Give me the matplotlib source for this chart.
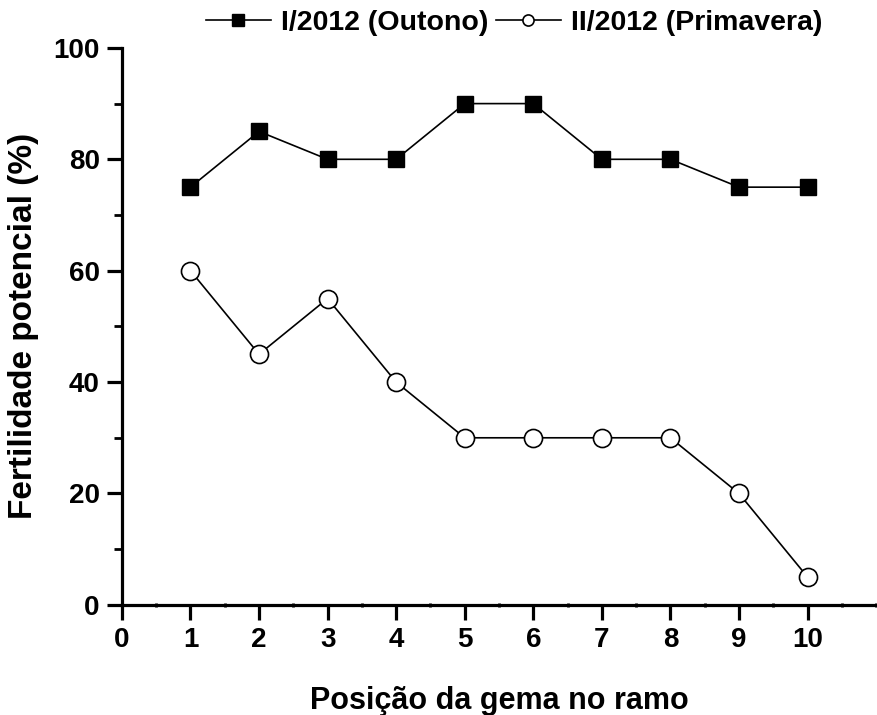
"""Fertilidade potencial das gemas por posicao no ramo."""

import matplotlib.pyplot as plt
from matplotlib.ticker import MultipleLocator

positions = [1, 2, 3, 4, 5, 6, 7, 8, 9, 10]
outono = [75, 85, 80, 80, 90, 90, 80, 80, 75, 75]
primavera = [60, 45, 55, 40, 30, 30, 30, 30, 20, 5]
series_labels = ["I/2012 (Outono)", "II/2012 (Primavera)"]

plt.rcParams.update({
    "font.family": ["Liberation Sans", "DejaVu Sans"],
    "font.weight": "bold",
    "font.size": 20,
})

fig = plt.figure(figsize=(8.77, 7.15), dpi=100)
ax = fig.add_axes([0.139, 0.154, 0.86, 0.779])

ax.plot(positions, outono, color="black", linewidth=1.2, marker="s",
        markersize=11, markerfacecolor="black", markeredgecolor="black",
        label=series_labels[0], clip_on=False, zorder=3)
ax.plot(positions, primavera, color="black", linewidth=1.2, marker="o",
        markersize=13, markerfacecolor="white", markeredgecolor="black",
        markeredgewidth=1.2, label=series_labels[1], clip_on=False, zorder=3)

ax.set_xlim(0, 11)
ax.set_ylim(0, 100)
ax.set_xticks(range(0, 11))
ax.xaxis.set_minor_locator(MultipleLocator(0.5))
ax.yaxis.set_major_locator(MultipleLocator(20))
ax.yaxis.set_minor_locator(MultipleLocator(10))

for side in ("top", "right"):
    ax.spines[side].set_visible(False)
for side in ("left", "bottom"):
    ax.spines[side].set_linewidth(2.3)

ax.tick_params(which="major", direction="out", length=11, width=2.3,
               labelsize=20, pad=5)
ax.tick_params(axis="y", which="minor", direction="out", length=6, width=2.0)
ax.tick_params(axis="x", which="minor", direction="inout", length=3, width=2.0)

ax.set_xlabel("Posição da gema no ramo", fontsize=22, fontweight="bold",
              labelpad=24)
ax.set_ylabel("Fertilidade potencial (%)", fontsize=24, fontweight="bold",
              labelpad=10)

leg = ax.legend(loc="lower center", bbox_to_anchor=(0.52, 0.995), ncol=2,
                frameon=False, fontsize=20.5, handlelength=2.3,
                handletextpad=0.35, columnspacing=0.25, borderaxespad=0.1)
for handle in leg.legend_handles:
    handle.set_markersize(8)

fig.savefig("out.png", dpi=100)
